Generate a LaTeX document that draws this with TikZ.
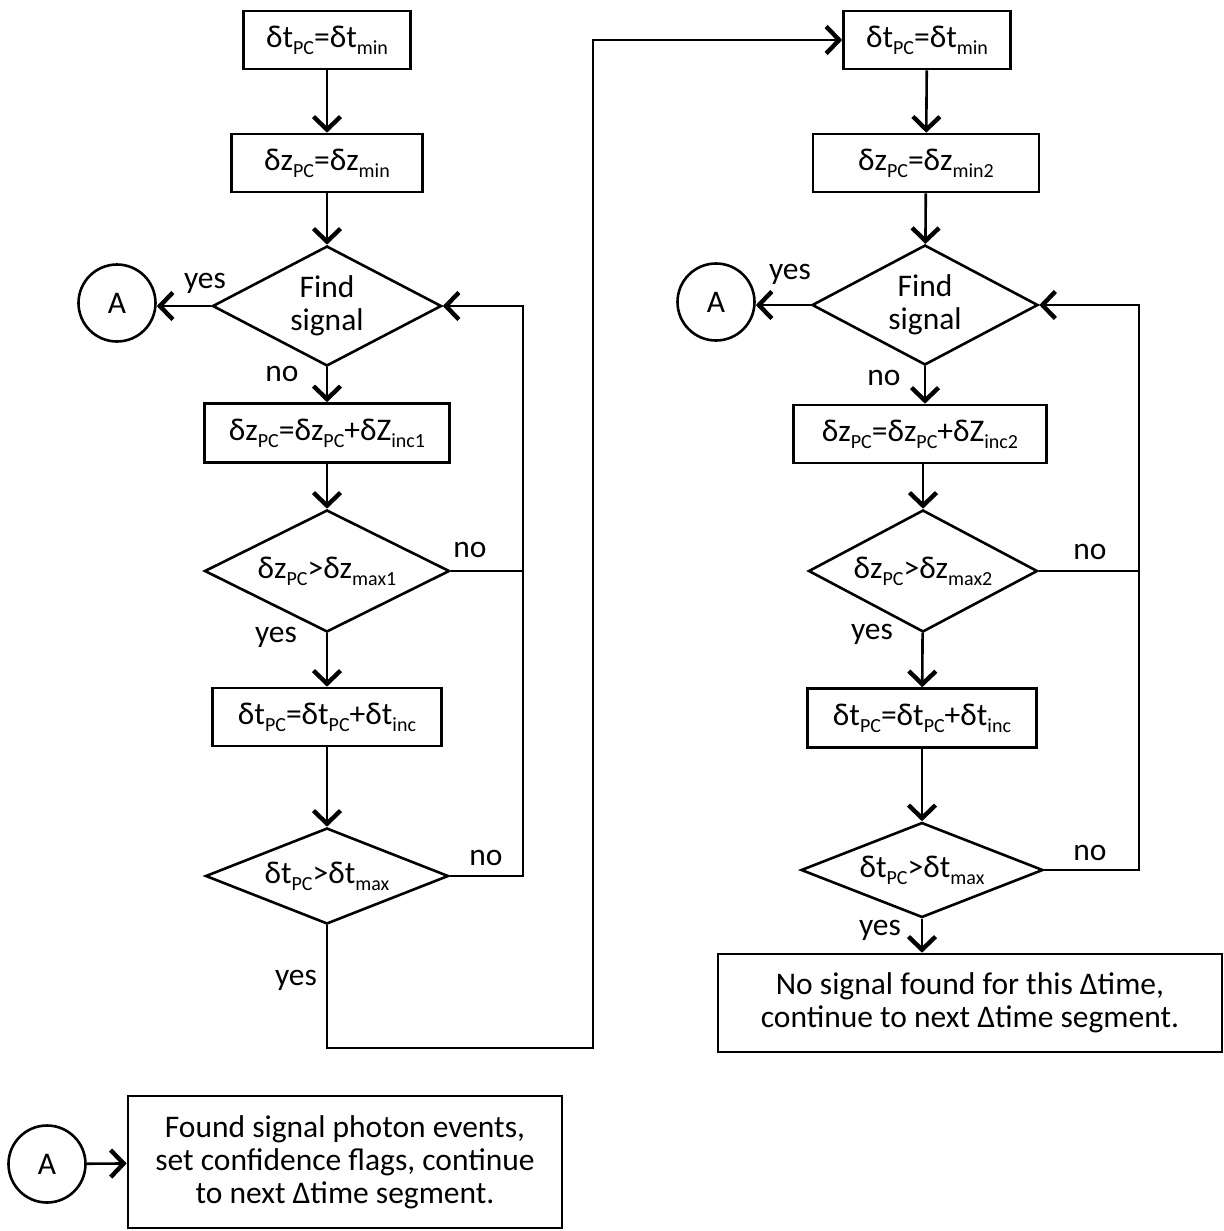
\documentclass[tikz,border=0pt]{standalone}
\usepackage{fontspec}
\setmainfont{Carlito}
\usetikzlibrary{shapes.geometric,arrows.meta}
\newcommand\lowsub[1]{\raisebox{-7pt}{\fontsize{20}{20}\selectfont #1}}
\begin{document}
\begin{tikzpicture}[x=1pt,y=-1pt,
  every node/.style={font=\fontsize{31.5}{33}\selectfont},
  line width=2.6pt,
  procbox/.style={draw, rectangle, inner sep=0pt, align=center},
  decision/.style={draw, diamond, aspect=2, inner sep=0pt, align=center},
  conn/.style={draw, circle, minimum size=77pt, inner sep=0pt},
  lbl/.style={inner sep=0pt},
  flow/.style={-{Straight Barb[length=13pt,width=27pt,line width=4.4pt]}}]
\useasboundingbox (0,0) rectangle (1223,1231);

% left column
\node[procbox, minimum width=167pt, minimum height=58pt] (b1) at (327,40) {δt\lowsub{PC}=δt\lowsub{min}};
\node[procbox, minimum width=191pt, minimum height=58pt] (b2) at (327,163) {δz\lowsub{PC}=δz\lowsub{min}};
\node[decision, minimum width=229pt, minimum height=120pt] (d1) at (327,306) {Find\\signal};
\node[conn] (a1) at (117,303) {A};
\node[procbox, minimum width=245pt, minimum height=59pt] (b3) at (327,433) {δz\lowsub{PC}=δz\lowsub{PC}+δZ\lowsub{inc1}};
\node[decision, minimum width=245pt, minimum height=122pt] (d2) at (327,571) {δz\lowsub{PC}>δz\lowsub{max1}};
\node[procbox, minimum width=229pt, minimum height=58pt] (b4) at (327,717) {δt\lowsub{PC}=δt\lowsub{PC}+δt\lowsub{inc}};
\node[decision, minimum width=243pt, minimum height=96pt] (d3) at (327,876) {δt\lowsub{PC}>δt\lowsub{max}};
\coordinate (L1) at (523,0);
\coordinate (c1) at (593,1048);

% right column
\node[procbox, minimum width=167pt, minimum height=58pt] (b5) at (927,40) {δt\lowsub{PC}=δt\lowsub{min}};
\node[procbox, minimum width=226pt, minimum height=58pt] (b6) at (926,163) {δz\lowsub{PC}=δz\lowsub{min2}};
\node[decision, minimum width=226pt, minimum height=120pt] (d4) at (925,305) {Find\\signal};
\node[conn] (a2) at (716,302) {A};
\node[procbox, minimum width=253pt, minimum height=58pt] (b7) at (920,434) {δz\lowsub{PC}=δz\lowsub{PC}+δZ\lowsub{inc2}};
\node[decision, minimum width=229pt, minimum height=122pt] (d5) at (923,571) {δz\lowsub{PC}>δz\lowsub{max2}};
\node[procbox, minimum width=229pt, minimum height=59pt] (b8) at (922,718) {δt\lowsub{PC}=δt\lowsub{PC}+δt\lowsub{inc}};
\node[decision, minimum width=242pt, minimum height=95pt] (d6) at (922,870) {δt\lowsub{PC}>δt\lowsub{max}};
\node[procbox, minimum width=504pt, minimum height=98pt] (b9) at (970,1003) {No signal found for this Δtime,\\continue to next Δtime segment.};
\coordinate (L2) at (1139,0);

% bottom legend
\node[conn] (a3) at (47,1164) {A};
\node[procbox, minimum width=434pt, minimum height=132pt] (b10) at (345,1162) {Found signal photon events,\\set confidence flags, continue\\to next Δtime segment.};

% connectors left
\draw[flow] (b1) -- (b2);
\draw[flow] (b2) -- (d1);
\draw[flow] (d1.west) -- (d1.west -| a1.east);
\draw[flow] (d1) -- (b3);
\draw[flow] (b3) -- (d2);
\draw[flow] (d2) -- (b4);
\draw[flow] (b4) -- (d3);
\draw (d2.east) -- (d2.east -| L1);
\draw[flow] (d3.east) -| (L1 |- d1.east) -- (d1.east);
\draw[flow] (d3.south) |- (c1) |- (b5.west);

% connectors right
\draw[flow] (b5) -- (b6);
\draw[flow] (b6) -- (d4);
\draw[flow] (d4.west) -- (d4.west -| a2.east);
\draw[flow] (d4.south) -- (d4.south |- b7.north);
\draw[flow] (b7.south -| d5.north) -- (d5.north);
\draw[flow] (d5) -- (b8);
\draw[flow] (b8) -- (d6);
\draw (d5.east) -- (d5.east -| L2);
\draw[flow] (d6.east) -| (L2 |- d4.east) -- (d4.east);
\draw[flow] (d6.south) -- (d6.south |- b9.north);

\draw[flow] (a3) -- (b10);

% labels
\node[lbl] (y1) at (205,283) {yes};
\node[lbl] (n1) at (282,374) {no};
\node[lbl] (n2) at (470,550) {no};
\node[lbl] (y2) at (276,637) {yes};
\node[lbl] (n3) at (486,858) {no};
\node[lbl] (y3) at (296,980) {yes};
\node[lbl] (y4) at (790,274) {yes};
\node[lbl] (n4) at (884,378) {no};
\node[lbl] (n5) at (1090,552) {no};
\node[lbl] (y5) at (872,634) {yes};
\node[lbl] (n6) at (1090,853) {no};
\node[lbl] (y6) at (880,930) {yes};
\end{tikzpicture}
\end{document}
